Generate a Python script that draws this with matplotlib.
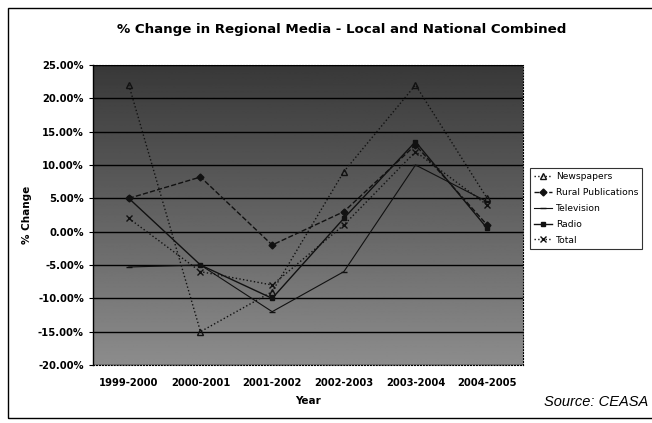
import numpy as np
import matplotlib.pyplot as plt
from matplotlib.patches import Rectangle
from matplotlib.ticker import FuncFormatter, MultipleLocator

years = ["1999-2000", "2000-2001", "2001-2002", "2002-2003", "2003-2004", "2004-2005"]

# % change per year
newspapers = [22.0, -15.0, -9.0, 9.0, 22.0, 5.0]
rural_pubs = [5.0, 8.2, -2.0, 3.0, 13.0, 1.0]
television = [-5.3, -5.0, -12.0, -6.0, 10.0, 4.5]
radio = [5.0, -5.0, -10.0, 2.0, 13.5, 0.5]
total = [2.0, -6.0, -8.0, 1.0, 12.0, 4.0]

x = np.arange(len(years))

fig = plt.figure(figsize=(6.52, 4.23), dpi=100)
fig.patch.set_facecolor("white")

# outer chart border
fig.add_artist(Rectangle((8 / 652, 5 / 423), 0.99, 1 - 13 / 423, transform=fig.transFigure,
                         fill=False, edgecolor="black", linewidth=1.0))

ax = fig.add_axes([93 / 652, 1 - 365 / 423, 430 / 652, 300 / 423])

# shaded plot area, darker towards the top
grad = np.linspace(0.55, 0.22, 256).reshape(-1, 1)
ax.imshow(grad, cmap="gray", vmin=0, vmax=1, aspect="auto",
          extent=(-0.5, 5.5, -20, 25), origin="lower", zorder=0)

ax.set_xlim(-0.5, 5.5)
ax.set_ylim(-20, 25)
ax.yaxis.set_major_locator(MultipleLocator(5))
ax.yaxis.set_major_formatter(FuncFormatter(lambda v, p: f"{v:.2f}%"))
ax.grid(axis="y", color="black", linewidth=1.0, zorder=1)
ax.set_axisbelow(False)

lc = "#111111"
ax.plot(x, newspapers, color=lc, linestyle=":", linewidth=1.0, marker="^",
        markersize=4, markerfacecolor="none", label="Newspapers", zorder=3)
ax.plot(x, rural_pubs, color=lc, linestyle="--", linewidth=1.0, marker="D",
        markersize=3.5, label="Rural Publications", zorder=3)
ax.plot(x, television, color=lc, linestyle="-", linewidth=0.8, marker="_",
        markersize=5, label="Television", zorder=3)
ax.plot(x, radio, color=lc, linestyle="-", linewidth=1.0, marker="s",
        markersize=3.5, label="Radio", zorder=3)
ax.plot(x, total, color=lc, linestyle=":", linewidth=1.0, marker="x",
        markersize=4, label="Total", zorder=3)

ax.set_xticks(x)
ax.set_xticklabels(years)
ax.tick_params(axis="x", length=0, pad=9, labelsize=7.2)
ax.tick_params(axis="y", length=3, direction="out", labelsize=7.2)
for lbl in ax.get_xticklabels() + ax.get_yticklabels():
    lbl.set_fontweight("bold")

for side in ["top", "right", "bottom"]:
    ax.spines[side].set_linestyle(":")
    ax.spines[side].set_linewidth(0.8)
ax.spines["left"].set_linewidth(1.0)

ax.set_ylabel("% Change", fontsize=7.5, fontweight="bold", labelpad=4)
ax.set_xlabel("Year", fontsize=7.5, fontweight="bold", labelpad=6)

fig.text(342 / 652, 1 - 30 / 423, "% Change in Regional Media - Local and National Combined",
         ha="center", va="center", fontsize=9.6, fontweight="bold")
fig.text(648 / 652, 1 - 402 / 423, "Source: CEASA", ha="right", va="center",
         fontsize=10.5, fontstyle="italic", family="Liberation Sans")

leg = ax.legend(loc="upper left", bbox_to_anchor=(530 / 652, 1 - 168 / 423),
                bbox_transform=fig.transFigure, fontsize=6.6, frameon=True,
                fancybox=False, edgecolor="black", handlelength=2.0,
                handletextpad=0.35, borderpad=0.45, labelspacing=0.75,
                borderaxespad=0)
leg.get_frame().set_linewidth(0.8)

fig.savefig("out.png", dpi=100)
